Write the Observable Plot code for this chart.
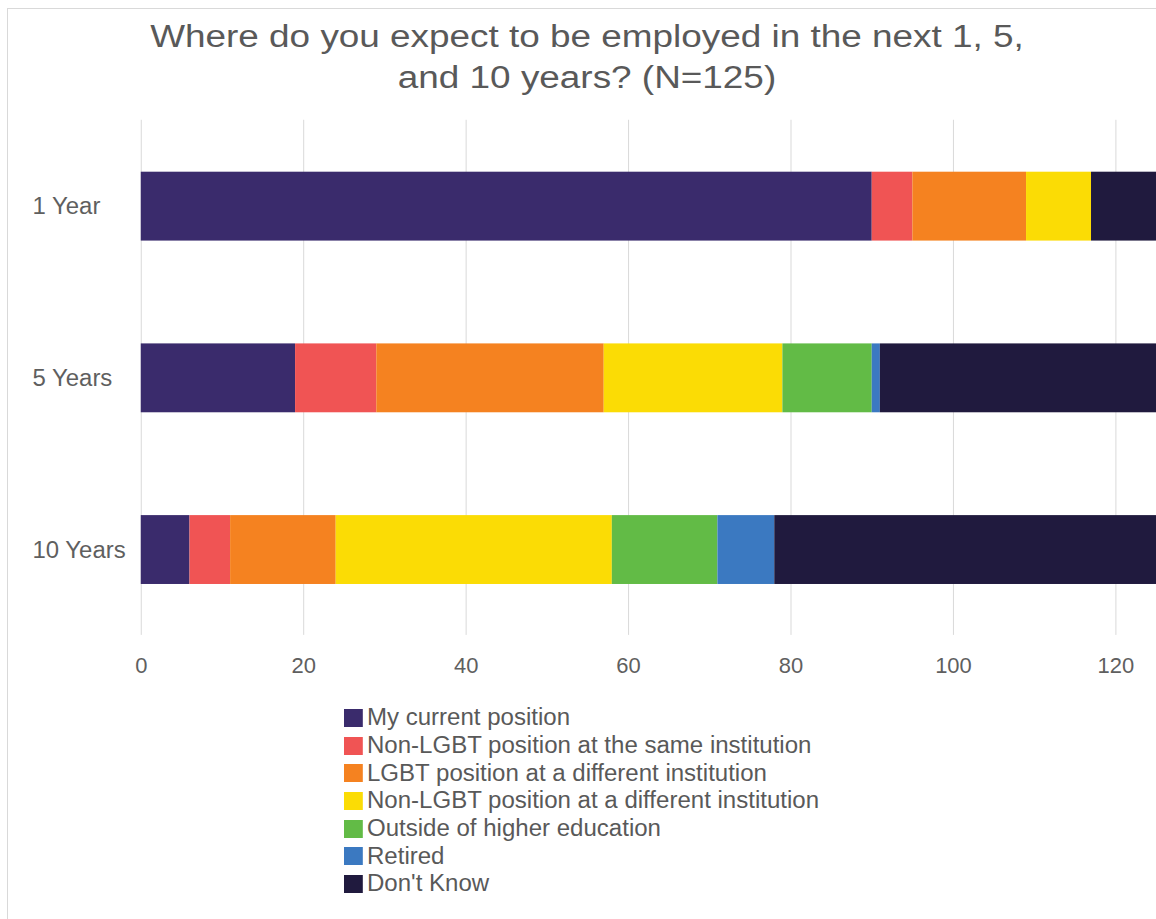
<!DOCTYPE html>
<html>
<head>
<meta charset="utf-8">
<script src="https://cdn.jsdelivr.net/npm/d3@7"></script>
<script src="https://cdn.jsdelivr.net/npm/@observablehq/plot@0.6"></script>
<style>
  html, body { margin: 0; padding: 0; background: #fff; overflow: hidden; }
  body { width: 1156px; height: 919px; position: relative; font-family: "Liberation Sans", Arial, sans-serif; }
  #frame { position: absolute; left: 7px; top: 8px; width: 1160px; height: 920px; border-left: 1px solid #d9d9d9; border-top: 1px solid #d9d9d9; }
  #title { position: absolute; left: 0; width: 1174px; top: 16px; text-align: center; font-size: 31px; line-height: 41px; color: #595959; transform: scaleX(1.19); transform-origin: 587px 0; }
  #chart { position: absolute; left: 0; top: 0; }
  #legend { position: absolute; left: 344px; top: 704px; font-size: 23px; color: #595959; transform: scaleX(1.045); transform-origin: 0 0; }
  .item { display: flex; align-items: center; height: 27.7px; white-space: nowrap; }
  .sw { width: 18px; height: 18px; margin-right: 4px; flex: none; }
</style>
</head>
<body>
<div id="frame"></div>
<div id="title">Where do you expect to be employed in the next 1, 5,<br>and 10 years? (N=125)</div>
<div id="chart"></div>
<div id="legend"></div>
<script>
const periods = ["1 Year", "5 Years", "10 Years"];
const categories = [
  "My current position",
  "Non-LGBT position at the same institution",
  "LGBT position at a different institution",
  "Non-LGBT position at a different institution",
  "Outside of higher education",
  "Retired",
  "Don't Know"
];
const colors = ["#3a2b6c", "#f05454", "#f58220", "#fbdc05", "#62bb46", "#3b79c1", "#201a3e"];
const year1 = [90, 5, 14, 8, 0, 0, 8];
const year5 = [19, 10, 28, 22, 11, 1, 34];
const year10 = [6, 5, 13, 34, 13, 7, 47];
const xTicks = [0, 20, 40, 60, 80, 100, 120];

const series = [year1, year5, year10];
const rows = [];
periods.forEach((p, i) => {
  categories.forEach((c, j) => {
    rows.push({period: p, category: c, value: series[i][j]});
  });
});

const chart = Plot.plot({
  width: 1158,
  height: 700,
  marginLeft: 141,
  marginRight: 0,
  marginTop: 120,
  marginBottom: 64,
  style: {fontFamily: "'Liberation Sans', Arial, sans-serif", fontSize: "22px", color: "#595959", background: "transparent"},
  x: {domain: [0, 125], ticks: xTicks},
  y: {domain: periods, paddingInner: 0.6, paddingOuter: 0.3},
  color: {domain: categories, range: colors},
  marks: [
    Plot.gridX(xTicks, {stroke: "#d9d9d9", strokeOpacity: 1, strokeWidth: 1}),
    Plot.barX(rows, Plot.stackX({y: "period", x: "value", fill: "category", order: categories})),
    Plot.axisX({ticks: xTicks, tickSize: 0, tickPadding: 22, label: null, fill: "#5f5f5f", fontSize: 22}),
    Plot.axisY({tickSize: 0, tickPadding: 109, textAnchor: "start", label: null, fill: "#5f5f5f", fontSize: 24})
  ]
});
document.getElementById("chart").appendChild(chart);

const legend = document.getElementById("legend");
categories.forEach((c, i) => {
  const d = document.createElement("div");
  d.className = "item";
  d.innerHTML = `<span class="sw" style="background:${colors[i]}"></span><span></span>`;
  d.lastChild.textContent = c;
  legend.appendChild(d);
});
</script>
</body>
</html>
